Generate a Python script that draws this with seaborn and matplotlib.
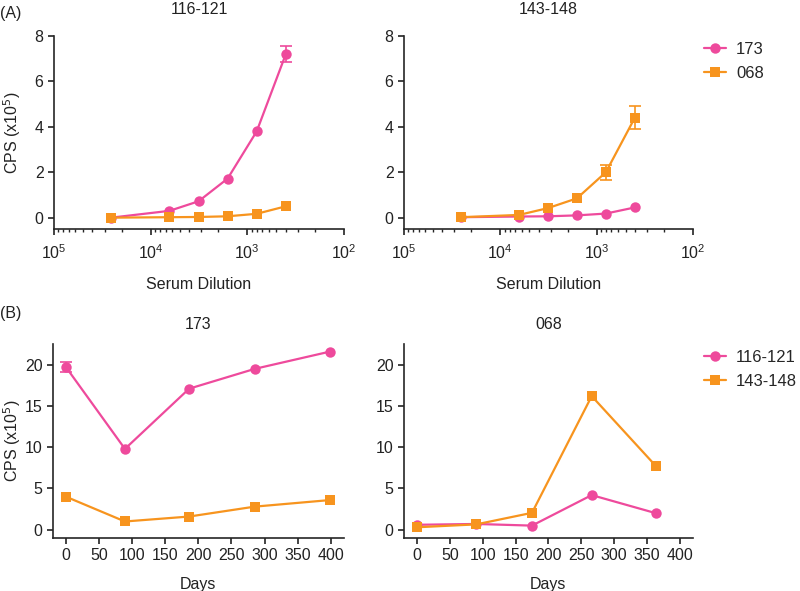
import numpy as np
import pandas as pd
import matplotlib
matplotlib.use("Agg")
import matplotlib.pyplot as plt
import seaborn as sns

# -----------------------------
# Data
# -----------------------------
dilution = [25600, 6400, 3200, 1600, 800, 400]

# (A) 116-121 peptide
a1_173 = [0.0, 0.30, 0.72, 1.72, 3.80, 7.20]
a1_173_err = [0, 0, 0, 0, 0, 0.35]
a1_068 = [0.0, 0.02, 0.03, 0.06, 0.17, 0.50]
a1_068_err = [0, 0, 0, 0, 0, 0]

# (A) 143-148 peptide
a2_173 = [0.02, 0.05, 0.06, 0.10, 0.18, 0.45]
a2_173_err = [0, 0, 0, 0, 0, 0]
a2_068 = [0.02, 0.12, 0.42, 0.85, 2.00, 4.40]
a2_068_err = [0, 0, 0, 0, 0.33, 0.50]

# (B) serum 173
days_173 = [0, 89, 186, 285, 399]
b1_116 = [19.7, 9.8, 17.1, 19.5, 21.6]
b1_116_err = [0.6, 0, 0, 0, 0]
b1_143 = [4.0, 1.0, 1.6, 2.8, 3.6]
b1_143_err = [0, 0, 0, 0, 0]

# (B) serum 068
days_068 = [0, 90, 175, 266, 364]
b2_116 = [0.6, 0.7, 0.5, 4.2, 2.0]
b2_116_err = [0, 0, 0, 0, 0]
b2_143 = [0.3, 0.65, 2.05, 16.2, 7.7]
b2_143_err = [0, 0, 0, 0, 0]

PINK = "#ee4a9c"
ORANGE = "#f7941e"

sns.set_theme(style="ticks")
plt.rcParams["font.family"] = ["Liberation Sans", "DejaVu Sans"]
plt.rcParams["axes.linewidth"] = 1.2
plt.rcParams["xtick.major.width"] = 1.2
plt.rcParams["ytick.major.width"] = 1.2

FS = 11.5
TXT = "#222222"


def long_df(x, series):
    rows = []
    for name, (vals, errs) in series.items():
        for xi, v, e in zip(x, vals, errs):
            rows.append({"x": xi, "y": v, "err": e, "group": name})
    return pd.DataFrame(rows)


def draw(ax, df, names):
    sns.lineplot(data=df, x="x", y="y", hue="group", style="group",
                 hue_order=names, style_order=names,
                 palette=[PINK, ORANGE], markers=["o", "s"], dashes=False,
                 markersize=7.5, markeredgewidth=0, linewidth=1.6, ax=ax)
    for name, col in zip(names, [PINK, ORANGE]):
        sub = df[(df["group"] == name) & (df["err"] > 0)]
        if len(sub):
            ax.errorbar(sub["x"], sub["y"], yerr=sub["err"], fmt="none",
                        ecolor=col, elinewidth=1.2, capsize=4, capthick=1.2)


fig = plt.figure(figsize=(8, 5.91), dpi=100)
ax1 = fig.add_axes([0.0675, 0.6125, 0.3625, 0.3266])
ax2 = fig.add_axes([0.505, 0.6125, 0.361, 0.3266])
ax3 = fig.add_axes([0.066, 0.0897, 0.364, 0.328])
ax4 = fig.add_axes([0.505, 0.0897, 0.361, 0.328])

# top row
df1 = long_df(dilution, {"173": (a1_173, a1_173_err), "068": (a1_068, a1_068_err)})
df2 = long_df(dilution, {"173": (a2_173, a2_173_err), "068": (a2_068, a2_068_err)})
draw(ax1, df1, ["173", "068"])
draw(ax2, df2, ["173", "068"])
for ax, title in [(ax1, "116-121"), (ax2, "143-148")]:
    ax.set_xscale("log")
    ax.set_xlim(1e5, 1e2)
    ax.set_ylim(-0.5, 8)
    ax.set_yticks([0, 2, 4, 6, 8])
    ax.set_title(title, fontsize=FS, pad=16, color=TXT)
    ax.tick_params(axis="x", pad=6)
    ax.set_xlabel("Serum Dilution", fontsize=FS, labelpad=11, color=TXT)
    ax.set_ylabel("")

# bottom row
df3 = long_df(days_173, {"116-121": (b1_116, b1_116_err), "143-148": (b1_143, b1_143_err)})
df4 = long_df(days_068, {"116-121": (b2_116, b2_116_err), "143-148": (b2_143, b2_143_err)})
draw(ax3, df3, ["116-121", "143-148"])
draw(ax4, df4, ["116-121", "143-148"])
for ax, title in [(ax3, "173"), (ax4, "068")]:
    ax.set_xlim(-20, 420)
    ax.set_ylim(-1, 22.5)
    ax.set_xticks(range(0, 401, 50))
    ax.set_yticks([0, 5, 10, 15, 20])
    ax.set_title(title, fontsize=FS, pad=11, color=TXT)
    ax.tick_params(axis="x", pad=3)
    ax.set_xlabel("Days", fontsize=FS, labelpad=10, color=TXT)
    ax.set_ylabel("")

for ax in [ax1, ax2, ax3, ax4]:
    sns.despine(ax=ax)
    ax.tick_params(labelsize=FS, length=4, color=TXT, labelcolor=TXT)
    ax.tick_params(which="minor", length=2.5, width=1.0)

ax1.set_ylabel("CPS (x10$^5$)", fontsize=FS, color=TXT)
ax3.set_ylabel("CPS (x10$^5$)", fontsize=FS, color=TXT)
ax1.yaxis.set_label_coords(-0.108, 0.5)
ax3.yaxis.set_label_coords(-0.104, 0.5)

# legends: only on the right panels
ax1.get_legend().remove()
ax3.get_legend().remove()
for ax in [ax2, ax4]:
    ax.legend(loc="upper left", bbox_to_anchor=(1.0, 1.03), frameon=False,
              fontsize=FS + 0.5, handlelength=1.3, handletextpad=0.6,
              labelspacing=0.55, borderaxespad=0.3)

fig.text(0.0, 0.978, "(A)", fontsize=FS, va="center", color=TXT)
fig.text(0.0, 0.47, "(B)", fontsize=FS, va="center", color=TXT)

fig.savefig("out.png", dpi=100)
